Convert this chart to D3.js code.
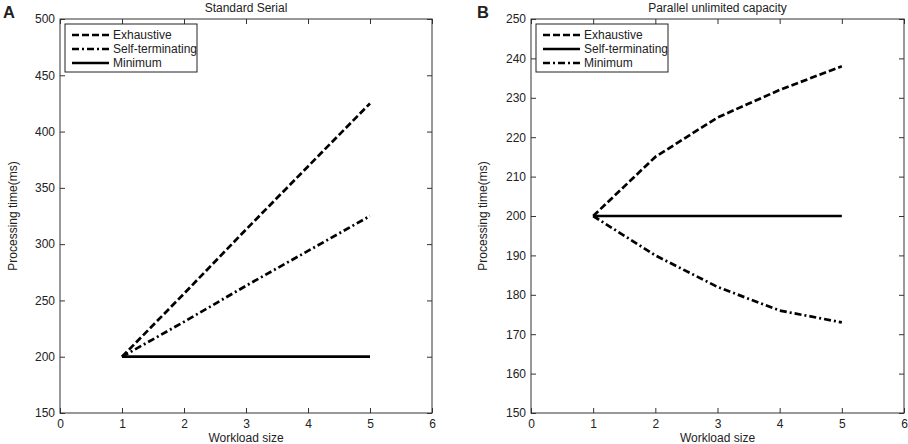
<!DOCTYPE html>
<html>
<head>
<meta charset="utf-8">
<script src="https://cdn.jsdelivr.net/npm/d3@7"></script>
<style>
body{margin:0;background:#fff;}
text{font-family:"Liberation Sans",Arial,sans-serif;fill:#222;}
</style>
</head>
<body>
<div id="svg"></div>
<script>
// data
const workload = [1,2,3,4,5];
const serialExhaustive = [200,256,313,369,425];
const serialSelfTerm = [200,231,263,294,325];
const serialMinimum = [200,200,200,200,200];
const parallelExhaustive = [200,215,225,232,238];
const parallelSelfTerm = [200,200,200,200,200];
const parallelMinimum = [200,190,182,176,173];
const xTicks = [0,1,2,3,4,5,6];
const serialYTicks = [150,200,250,300,350,400,450,500];
const parallelYTicks = [150,160,170,180,190,200,210,220,230,240,250];

const width = 908;
const height = 444;
const dashes = {dash:"7,3", dashdot:"7,3,2,3", solid:null};

const svg = d3.select("#svg")
              .append("svg")
              .attr("width",width)
              .attr("height",height);

const panels = [
  {letter:"A", title:"Standard Serial", left:60, right:432, yDomain:[150,500], yTicks:serialYTicks,
   series:[{name:"Exhaustive",values:serialExhaustive,dash:"dash"},
           {name:"Self-terminating",values:serialSelfTerm,dash:"dashdot"},
           {name:"Minimum",values:serialMinimum,dash:"solid"}],
   legendW:132, letterX:3, ylabelX:13},
  {letter:"B", title:"Parallel unlimited capacity", left:531, right:904, yDomain:[150,250], yTicks:parallelYTicks,
   series:[{name:"Exhaustive",values:parallelExhaustive,dash:"dash"},
           {name:"Self-terminating",values:parallelSelfTerm,dash:"solid"},
           {name:"Minimum",values:parallelMinimum,dash:"dashdot"}],
   legendW:132, letterX:477, ylabelX:483}
];

const plotTop = 19, plotBottom = 413;

panels.forEach(p => {
  const x = d3.scaleLinear().domain([0,6]).range([p.left,p.right]);
  const y = d3.scaleLinear().domain(p.yDomain).range([plotBottom,plotTop]);
  const g = svg.append("g");

  // ticks (inward, on all four sides)
  const axisStyle = sel => {
    sel.select(".domain").remove();
    sel.selectAll("line").attr("stroke","#333").attr("stroke-width",1);
    sel.selectAll("text").attr("font-size","12px").attr("fill","#222")
       .attr("font-family","Liberation Sans, Arial, sans-serif");
  };
  g.append("g").attr("transform",`translate(0,${plotBottom})`)
   .call(d3.axisBottom(x).tickValues(xTicks).tickSize(-5).tickPadding(6).tickFormat(d3.format("d")))
   .call(axisStyle);
  g.append("g").attr("transform",`translate(0,${plotTop})`)
   .call(d3.axisTop(x).tickValues(xTicks).tickSize(-5).tickFormat(""))
   .call(axisStyle);
  g.append("g").attr("transform",`translate(${p.left},0)`)
   .call(d3.axisLeft(y).tickValues(p.yTicks).tickSize(-5).tickPadding(5).tickFormat(d3.format("d")))
   .call(axisStyle);
  g.append("g").attr("transform",`translate(${p.right},0)`)
   .call(d3.axisRight(y).tickValues(p.yTicks).tickSize(-5).tickFormat(""))
   .call(axisStyle);

  g.append("rect").attr("x",p.left).attr("y",plotTop)
   .attr("width",p.right-p.left).attr("height",plotBottom-plotTop)
   .attr("fill","none").attr("stroke","#333").attr("stroke-width",1);

  const line = d3.line().x((d,i)=>x(workload[i])).y(d=>y(d));
  g.selectAll(".series").data(p.series).enter()
   .append("path")
   .attr("d",s=>line(s.values))
   .attr("fill","none")
   .attr("stroke","#000")
   .attr("stroke-width",2.7)
   .attr("stroke-dasharray",s=>dashes[s.dash]);

  // legend
  const lg = g.append("g").attr("transform",`translate(${p.left+5},24)`);
  lg.append("rect").attr("width",p.legendW).attr("height",48)
    .attr("fill","#fff").attr("stroke","#222").attr("stroke-width",1);
  p.series.forEach((s,i) => {
    const yy = 11+i*14;
    lg.append("line").attr("x1",7).attr("x2",44).attr("y1",yy).attr("y2",yy)
      .attr("stroke","#000").attr("stroke-width",2.7)
      .attr("stroke-dasharray",dashes[s.dash]);
    lg.append("text").attr("x",48).attr("y",yy).attr("dy","0.35em")
      .attr("font-size","12px").text(s.name);
  });

  // titles and labels
  svg.append("text").attr("x",(p.left+p.right)/2).attr("y",12)
     .attr("text-anchor","middle").attr("font-size","12px").text(p.title);
  svg.append("text").attr("x",(p.left+p.right)/2).attr("y",442)
     .attr("text-anchor","middle").attr("font-size","12px").text("Workload size");
  svg.append("text").attr("transform",`translate(${p.ylabelX},${(plotTop+plotBottom)/2}) rotate(-90)`)
     .attr("text-anchor","middle").attr("dy","0.35em").attr("font-size","12px").text("Processing time(ms)");
  svg.append("text").attr("x",p.letterX).attr("y",18)
     .attr("font-size","16.5px").attr("font-weight","bold").attr("fill","#000").text(p.letter);
});
</script>
</body>
</html>
